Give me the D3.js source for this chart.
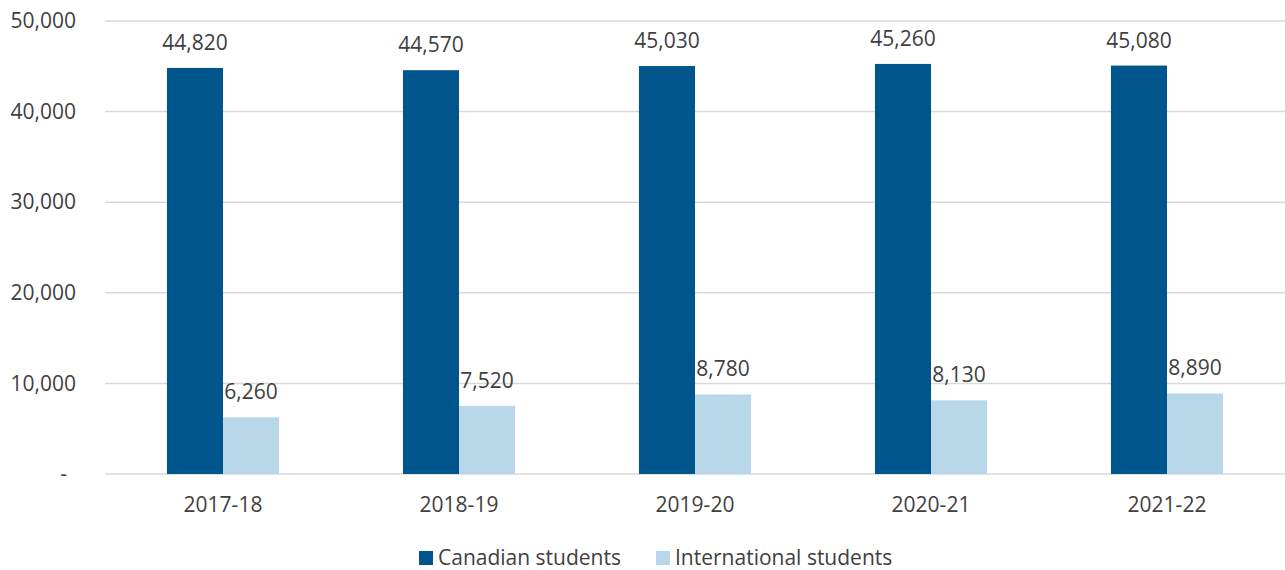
<!DOCTYPE html>
<html>
<head>
<meta charset="utf-8">
<script src="https://cdnjs.cloudflare.com/ajax/libs/d3/7.8.5/d3.min.js"></script>
<style>
  body { margin: 0; background: #fff; }
  text { font-family: "Open Sans", sans-serif; fill: #404040; }
</style>
</head>
<body>
<div id="chart"></div>
<script>
// data
const years = ["2017-18", "2018-19", "2019-20", "2020-21", "2021-22"];
const seriesNames = ["Canadian students", "International students"];
const canadian = [44820, 44570, 45030, 45260, 45080];
const international = [6260, 7520, 8780, 8130, 8890];
const yTicks = [0, 10000, 20000, 30000, 40000, 50000];
const colors = ["#00558c", "#b8d8ea"];

const W = 1285, H = 570;
const margin = { top: 21, right: 0, bottom: 96, left: 105 };
const fontSize = 21;

const svg = d3.select("#chart").append("svg")
  .attr("width", W)
  .attr("height", H);

const y = d3.scaleLinear()
  .domain([0, 50000])
  .range([H - margin.bottom, margin.top]);

const x0 = d3.scaleBand()
  .domain(years)
  .range([margin.left, W - margin.right])
  .paddingInner(0.525)
  .paddingOuter(0.2625);

const x1 = d3.scaleBand()
  .domain(seriesNames)
  .range([0, x0.bandwidth()]);

// gridlines
svg.append("g")
  .selectAll("line")
  .data(yTicks)
  .enter().append("line")
  .attr("x1", margin.left)
  .attr("x2", W - margin.right)
  .attr("y1", d => y(d))
  .attr("y2", d => y(d))
  .attr("stroke", "#d9d9d9")
  .attr("stroke-width", 1.5);

// y axis labels
const fmt = d3.format(",");
const yAxis = d3.axisLeft(y)
  .tickValues(yTicks)
  .tickSize(0)
  .tickPadding(0)
  .tickFormat(d => d === 0 ? "-" : fmt(d));

svg.append("g")
  .attr("transform", "translate(76,0)")
  .call(yAxis)
  .call(g => g.select(".domain").remove())
  .call(g => g.selectAll("text")
    .attr("font-size", fontSize)
    .attr("dx", d => d === 0 ? -9 : 0)
    .style("font-family", "'Open Sans', sans-serif")
    .style("fill", "#404040"));

// bars
const rows = years.map((yr, i) => ({ year: yr, values: [canadian[i], international[i]] }));

const groups = svg.append("g")
  .selectAll("g")
  .data(rows)
  .enter().append("g")
  .attr("transform", d => "translate(" + x0(d.year) + ",0)");

groups.selectAll("rect")
  .data(d => d.values.map((v, j) => ({ name: seriesNames[j], value: v, j: j })))
  .enter().append("rect")
  .attr("x", d => x1(d.name))
  .attr("width", x1.bandwidth())
  .attr("y", d => y(d.value))
  .attr("height", d => y(0) - y(d.value))
  .attr("fill", d => colors[d.j]);

groups.selectAll(".val")
  .data(d => d.values.map((v, j) => ({ name: seriesNames[j], value: v })))
  .enter().append("text")
  .attr("class", "val")
  .attr("x", d => x1(d.name) + x1.bandwidth() / 2)
  .attr("y", d => y(d.value) - 18)
  .attr("text-anchor", "middle")
  .attr("font-size", fontSize)
  .text(d => fmt(d.value));

// x axis labels
const xAxis = d3.axisBottom(x0).tickSize(0).tickPadding(0);
svg.append("g")
  .attr("transform", "translate(0," + y(0) + ")")
  .call(xAxis)
  .call(g => g.select(".domain").remove())
  .call(g => g.selectAll("text")
    .attr("y", 38)
    .attr("dy", null)
    .attr("font-size", fontSize)
    .style("font-family", "'Open Sans', sans-serif")
    .style("fill", "#404040"));

// legend
const legendX = [419, 656];
const legend = svg.append("g")
  .selectAll("g")
  .data(seriesNames)
  .enter().append("g")
  .attr("transform", (d, i) => "translate(" + legendX[i] + ",551)");

legend.append("rect")
  .attr("width", 14)
  .attr("height", 14)
  .attr("fill", (d, i) => colors[i]);

legend.append("text")
  .attr("x", 19)
  .attr("y", 14)
  .attr("font-size", fontSize)
  .text(d => d);
</script>
</body>
</html>
